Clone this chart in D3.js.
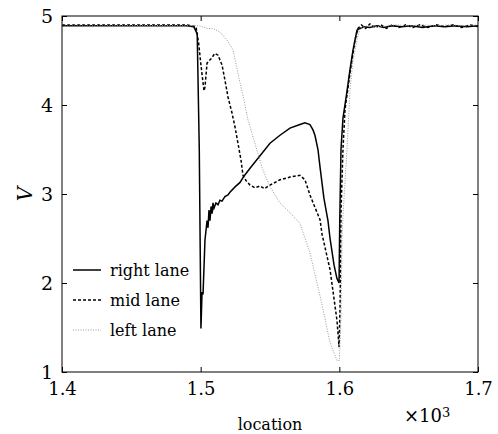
<!DOCTYPE html>
<html>
<head>
<meta charset="utf-8">
<script src="https://cdn.jsdelivr.net/npm/d3@7"></script>
<style>
  body { margin: 0; background: #fff; }
  svg text { font-family: "DejaVu Serif", serif; }
</style>
</head>
<body>
<svg width="498" height="434" font-family="DejaVu Serif"></svg>
<script>
// location in units of 10^3, speed V
var rightLane = [
  [1.4, 4.89], [1.49, 4.89], [1.495, 4.88], [1.4975, 4.8], [1.499, 3.5], [1.5002, 1.49],
  [1.501, 1.9], [1.5017, 1.87], [1.5031, 2.48], [1.5046, 2.7], [1.5053, 2.62], [1.506, 2.82],
  [1.5067, 2.7], [1.5075, 2.86], [1.5082, 2.78], [1.5089, 2.9], [1.5096, 2.84], [1.511, 2.9],
  [1.5125, 2.88], [1.5139, 2.93], [1.5154, 2.92], [1.5175, 2.97], [1.5197, 2.99], [1.5211, 3.02],
  [1.5248, 3.08], [1.5284, 3.13], [1.5312, 3.2], [1.5356, 3.29], [1.5428, 3.43], [1.55, 3.57],
  [1.5572, 3.66], [1.5644, 3.74], [1.5716, 3.78], [1.5752, 3.8], [1.5788, 3.78], [1.581, 3.72],
  [1.5824, 3.66], [1.5846, 3.5], [1.5861, 3.3], [1.5889, 2.95], [1.5918, 2.7], [1.5933, 2.5],
  [1.5962, 2.2], [1.5983, 2.05], [1.5998, 2.0], [1.6003, 2.7], [1.6012, 3.5], [1.6026, 3.85],
  [1.6055, 4.15], [1.6077, 4.4], [1.6099, 4.62], [1.6127, 4.84], [1.6149, 4.86], [1.618, 4.88],
  [1.622, 4.87], [1.627, 4.89], [1.632, 4.87], [1.638, 4.89], [1.645, 4.88], [1.652, 4.89],
  [1.66, 4.87], [1.668, 4.89], [1.676, 4.88], [1.684, 4.89], [1.692, 4.88], [1.7, 4.89]
];
var midLane = [
  [1.4, 4.9], [1.49, 4.9], [1.4966, 4.88], [1.4985, 4.7], [1.5002, 4.45], [1.5024, 4.16],
  [1.5031, 4.2], [1.5046, 4.47], [1.5075, 4.52], [1.5103, 4.58], [1.5125, 4.56], [1.5154, 4.45],
  [1.5175, 4.28], [1.5197, 4.09], [1.5226, 3.91], [1.5248, 3.75], [1.5269, 3.57], [1.5291, 3.38],
  [1.5305, 3.21], [1.5327, 3.15], [1.5356, 3.1], [1.539, 3.07], [1.5428, 3.09], [1.546, 3.06],
  [1.55, 3.1], [1.5572, 3.16], [1.5644, 3.19], [1.5716, 3.21], [1.5752, 3.16], [1.5788, 2.99],
  [1.5824, 2.85], [1.5861, 2.71], [1.5875, 2.55], [1.5933, 2.15], [1.5983, 1.58], [1.5998, 1.28],
  [1.6005, 1.7], [1.6012, 2.8], [1.6026, 3.5], [1.6041, 3.95], [1.6077, 4.36], [1.6113, 4.73],
  [1.6134, 4.86], [1.616, 4.9], [1.619, 4.86], [1.622, 4.91], [1.626, 4.87], [1.63, 4.9],
  [1.634, 4.86], [1.638, 4.9], [1.643, 4.87], [1.648, 4.9], [1.653, 4.87], [1.658, 4.9],
  [1.664, 4.87], [1.67, 4.9], [1.676, 4.88], [1.682, 4.9], [1.688, 4.87], [1.694, 4.9], [1.7, 4.88]
];
var leftLane = [
  [1.4, 4.9], [1.4995, 4.89], [1.5046, 4.86], [1.5089, 4.86], [1.5139, 4.82], [1.519, 4.73],
  [1.5233, 4.62], [1.5262, 4.41], [1.5284, 4.25], [1.5312, 4.06], [1.5341, 3.83], [1.5363, 3.72],
  [1.5406, 3.49], [1.5449, 3.27], [1.55, 3.08], [1.5572, 2.9], [1.5644, 2.79], [1.5716, 2.67],
  [1.5788, 2.34], [1.5872, 1.78], [1.5933, 1.33], [1.5983, 1.13], [1.6, 1.13], [1.6012, 1.6],
  [1.602, 2.5], [1.6026, 2.75], [1.6055, 3.49], [1.6077, 4.17], [1.6099, 4.5], [1.6127, 4.73],
  [1.6149, 4.86], [1.62, 4.89], [1.63, 4.88], [1.64, 4.9], [1.65, 4.89], [1.66, 4.9],
  [1.67, 4.89], [1.68, 4.9], [1.69, 4.89], [1.7, 4.9]
];
var xTicks = [1.4, 1.5, 1.6, 1.7];
var yTicks = [1, 2, 3, 4, 5];
var legendLabels = ["right lane", "mid lane", "left lane"];

var margin = {left: 62, top: 16, right: 20, bottom: 62};
var width = 498 - margin.left - margin.right;
var height = 434 - margin.top - margin.bottom;

var svg = d3.select("svg");
var g = svg.append("g").attr("transform", "translate(" + margin.left + "," + margin.top + ")");

var x = d3.scaleLinear().domain([1.4, 1.7]).range([0, width]);
var y = d3.scaleLinear().domain([1, 5]).range([height, 0]);

var styles = [
  {stroke: "#000", width: 1.5, dash: null},
  {stroke: "#000", width: 1.5, dash: "3,2"},
  {stroke: "#999", width: 1, dash: "1,1.5"}
];
var series = [rightLane, midLane, leftLane];

var line = d3.line().x(d => x(d[0])).y(d => y(d[1]));

g.append("clipPath").attr("id", "clip")
  .append("rect").attr("width", width).attr("height", height);

series.forEach(function(s, i) {
  g.append("path")
    .datum(s)
    .attr("d", line)
    .attr("clip-path", "url(#clip)")
    .attr("fill", "none")
    .attr("stroke", styles[i].stroke)
    .attr("stroke-width", styles[i].width)
    .attr("stroke-dasharray", styles[i].dash);
});

// axes with inward ticks
var fmt = d3.format(".1f");
var xb = g.append("g").attr("transform", "translate(0," + height + ")")
  .call(d3.axisBottom(x).tickValues(xTicks).tickSize(-5).tickFormat(fmt).tickPadding(10));
var xt = g.append("g")
  .call(d3.axisTop(x).tickValues(xTicks).tickSize(-5).tickFormat(""));
var yl = g.append("g")
  .call(d3.axisLeft(y).tickValues(yTicks).tickSize(-5).tickFormat(d3.format("d")).tickPadding(9));
var yr = g.append("g").attr("transform", "translate(" + width + ",0)")
  .call(d3.axisRight(y).tickValues(yTicks).tickSize(-5).tickFormat(""));

[xb, xt, yl, yr].forEach(function(a) {
  a.attr("font-family", "DejaVu Serif").attr("font-size", 18);
  a.select(".domain").remove();
  a.selectAll("line").attr("stroke", "#000");
  a.selectAll("text").attr("fill", "#000");
});
yl.attr("font-size", 19);
xb.selectAll("text").attr("dy", "0.71em");

g.append("rect").attr("width", width).attr("height", height)
  .attr("fill", "none").attr("stroke", "#000").attr("stroke-width", 1);

// labels
g.append("text")
  .attr("transform", "translate(-30," + (height / 2) + ") rotate(-90)")
  .attr("text-anchor", "middle")
  .attr("font-size", 20).attr("font-style", "italic")
  .text("V");

svg.append("text")
  .attr("x", 270).attr("y", 430)
  .attr("text-anchor", "middle")
  .attr("font-size", 16)
  .text("location");

var mult = svg.append("text").attr("x", 404).attr("y", 422).attr("font-size", 18);
mult.append("tspan").text("×10");
mult.append("tspan").attr("dy", -5).attr("font-size", 13).text("3");

// legend
var legend = g.append("g").attr("transform", "translate(11,254)").attr("font-size", 16);
legendLabels.forEach(function(lab, i) {
  var row = legend.append("g").attr("transform", "translate(0," + (i * 30) + ")");
  row.append("line").attr("x1", 0).attr("x2", 28)
    .attr("stroke", styles[i].stroke)
    .attr("stroke-width", styles[i].width)
    .attr("stroke-dasharray", styles[i].dash);
  row.append("text").attr("x", 37).attr("dy", "0.35em").text(lab);
});
</script>
</body>
</html>
